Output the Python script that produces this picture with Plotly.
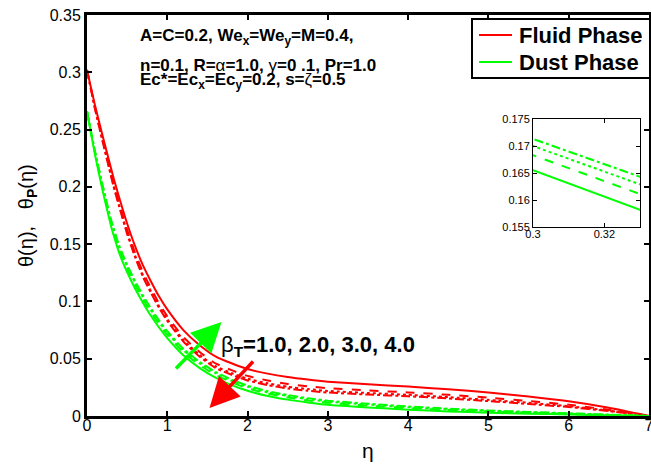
import plotly.graph_objects as go

# ---------------- data ----------------
eta = [0, 0.1, 0.2, 0.3, 0.33, 0.4, 0.5, 0.6, 0.7, 0.8, 0.9, 1.0, 1.2, 1.4, 1.6,
       1.8, 2.0, 2.25, 2.5, 2.75, 3.0, 3.5, 4.0, 4.5, 5.0, 5.5, 6.0, 6.5, 7.0]

# Fluid phase theta(eta) for beta_T = 1, 2, 3, 4
fluid_b1 = [0.302, 0.271, 0.243, 0.216, 0.208, 0.191, 0.168, 0.148, 0.131, 0.117, 0.104,
            0.093, 0.075, 0.062, 0.052, 0.046, 0.041, 0.037, 0.034, 0.0318, 0.0300,
            0.0277, 0.0257, 0.0233, 0.0205, 0.0170, 0.0128, 0.0072, 0.0]
fluid_b2 = [0.302, 0.2692, 0.2400, 0.2118, 0.2035, 0.1862, 0.1626, 0.1423, 0.1250, 0.1110,
            0.0980, 0.0870, 0.0690, 0.0560, 0.0460, 0.0400, 0.0350, 0.0310, 0.0280, 0.0259,
            0.0243, 0.0223, 0.0206, 0.0185, 0.0160, 0.0131, 0.0098, 0.0054, 0.0]
fluid_b3 = [0.302, 0.2684, 0.2387, 0.2100, 0.2016, 0.1842, 0.1604, 0.1399, 0.1225, 0.1085,
            0.0955, 0.0845, 0.0665, 0.0535, 0.0435, 0.0375, 0.0325, 0.0285, 0.0255, 0.0235,
            0.0219, 0.0201, 0.0185, 0.0165, 0.0141, 0.0115, 0.0086, 0.0047, 0.0]
fluid_b4 = [0.302, 0.2680, 0.2380, 0.2090, 0.2005, 0.1830, 0.1590, 0.1385, 0.1210, 0.1070,
            0.0940, 0.0830, 0.0650, 0.0520, 0.0420, 0.0360, 0.0310, 0.0270, 0.0240, 0.0220,
            0.0205, 0.0187, 0.0172, 0.0153, 0.0130, 0.0105, 0.0078, 0.0042, 0.0]

# Dust phase theta_P(eta) for beta_T = 1, 2, 3, 4
dust_b1 = [0.266, 0.228, 0.195, 0.1655, 0.1582, 0.1425, 0.1255, 0.1110, 0.0985, 0.0870,
           0.0770, 0.0680, 0.0530, 0.0420, 0.0335, 0.0270, 0.0220, 0.0175, 0.0143, 0.0118,
           0.0098, 0.0075, 0.0055, 0.0040, 0.0029, 0.0020, 0.0013, 0.0006, 0.0]
dust_b2 = [0.266, 0.2294, 0.1974, 0.1683, 0.1611, 0.1456, 0.1287, 0.1142, 0.1016, 0.0901,
           0.0800, 0.0709, 0.0557, 0.0446, 0.0359, 0.0293, 0.0242, 0.0195, 0.0162, 0.0136,
           0.0115, 0.0090, 0.0068, 0.0052, 0.0039, 0.0028, 0.0018, 0.0009, 0.0]
dust_b3 = [0.266, 0.2303, 0.1989, 0.1700, 0.1629, 0.1474, 0.1306, 0.1161, 0.1035, 0.0919,
           0.0818, 0.0726, 0.0574, 0.0462, 0.0374, 0.0307, 0.0255, 0.0207, 0.0174, 0.0147,
           0.0126, 0.0100, 0.0077, 0.0058, 0.0044, 0.0032, 0.0021, 0.0011, 0.0]
dust_b4 = [0.266, 0.2310, 0.2000, 0.1713, 0.1643, 0.1489, 0.1321, 0.1176, 0.1050, 0.0934,
           0.0832, 0.0740, 0.0587, 0.0474, 0.0386, 0.0318, 0.0265, 0.0217, 0.0183, 0.0156,
           0.0134, 0.0107, 0.0083, 0.0064, 0.0049, 0.0036, 0.0024, 0.0012, 0.0]

x_ticks = [0, 1, 2, 3, 4, 5, 6, 7]
y_ticks = [0, 0.05, 0.1, 0.15, 0.2, 0.25, 0.3, 0.35]
inset_x_ticks = [0.3, 0.32]
inset_y_ticks = [0.155, 0.16, 0.165, 0.17, 0.175]
legend_names = ["Fluid Phase", "Dust Phase"]

# ---------------- styling ----------------
RED = "#FF0000"
GREEN = "#00FF00"
FONT = "Liberation Sans"
dashes = ["solid", "dash", "dot", "dashdot"]
W, H = 651, 466
L, R, T, B = 87, 2, 15, 50
plot_w = W - L - R
plot_h = H - T - B


def px(x):
    return (x - L) / plot_w


def py(y):
    return (H - B - y) / plot_h


fig = go.Figure()

fluid = [fluid_b1, fluid_b2, fluid_b3, fluid_b4]
dust = [dust_b1, dust_b2, dust_b3, dust_b4]

for i, ys in enumerate(fluid):
    fig.add_trace(go.Scatter(
        x=eta, y=ys, mode="lines",
        line=dict(color=RED, width=2, dash=dashes[i], shape="spline", smoothing=0.6),
        showlegend=False))
for i, ys in enumerate(dust):
    fig.add_trace(go.Scatter(
        x=eta, y=ys, mode="lines",
        line=dict(color=GREEN, width=2, dash=dashes[i], shape="spline", smoothing=0.6),
        showlegend=False))

# inset (dust phase zoom)
for i, ys in enumerate(dust):
    fig.add_trace(go.Scatter(
        x=eta, y=ys, mode="lines", xaxis="x2", yaxis="y2",
        line=dict(color=GREEN, width=2, dash=dashes[i]),
        showlegend=False))

axis_common = dict(
    showline=True, linecolor="black", mirror="ticks", automargin=False,
    ticks="inside", tickcolor="black", showgrid=False, zeroline=False,
    ticklabeloverflow="allow",
)

fig.update_layout(
    width=W, height=H,
    margin=dict(l=L, r=R, t=T, b=B, autoexpand=False),
    paper_bgcolor="white", plot_bgcolor="white",
    font=dict(family=FONT, color="black"),
    xaxis=dict(range=[0, 7], tickvals=x_ticks, ticklen=5, tickwidth=1.5, linewidth=3,
               tickfont=dict(size=16), ticklabelstandoff=-7, **axis_common),
    yaxis=dict(range=[0, 0.35], tickvals=y_ticks, ticklen=5, tickwidth=1.5, linewidth=3,
               tickfont=dict(size=16), **axis_common),
    xaxis2=dict(domain=[px(533), px(640)], anchor="y2", range=[0.3, 0.33],
                tickvals=inset_x_ticks, ticklen=4, linewidth=1,
                tickfont=dict(size=11), ticklabelstandoff=-3, **axis_common),
    yaxis2=dict(domain=[py(227), py(119)], anchor="x2", range=[0.155, 0.175],
                tickvals=inset_y_ticks, ticklen=4, linewidth=1,
                tickfont=dict(size=11), **axis_common),
    showlegend=False,
)

# manual legend box (MATLAB style)
shapes = [
    dict(type="rect", xref="paper", yref="paper", x0=px(472), x1=px(650), y0=py(78), y1=py(19),
         line=dict(color="black", width=2), fillcolor="white", layer="above"),
    dict(type="line", xref="paper", yref="paper", x0=px(479), x1=px(512), y0=py(35), y1=py(35),
         line=dict(color=RED, width=2), layer="above"),
    dict(type="line", xref="paper", yref="paper", x0=px(479), x1=px(512), y0=py(62), y1=py(62),
         line=dict(color=GREEN, width=2), layer="above"),
]
fig.update_layout(shapes=shapes)

ann = []
ann.append(dict(xref="paper", yref="paper", x=px(517), y=py(35), xanchor="left", yanchor="middle",
                text="<b>" + legend_names[0] + "</b>", showarrow=False, font=dict(size=22)))
ann.append(dict(xref="paper", yref="paper", x=px(517), y=py(62), xanchor="left", yanchor="middle",
                text="<b>" + legend_names[1] + "</b>", showarrow=False, font=dict(size=22)))
# parameter text
ann.append(dict(xref="paper", yref="paper", x=px(138), y=py(37), xanchor="left", yanchor="middle",
                text="<b>A=C=0.2, We<sub>x</sub>=We<sub>y</sub>=M=0.4,</b>",
                showarrow=False, font=dict(size=17)))
ann.append(dict(xref="paper", yref="paper", x=px(138), y=py(65), xanchor="left", yanchor="middle",
                text="<b>n=0.1, R=</b>α<b>=1.0, </b>γ<b>=0 .1, Pr=1.0</b>",
                showarrow=False, font=dict(size=17)))
ann.append(dict(xref="paper", yref="paper", x=px(138), y=py(81), xanchor="left", yanchor="middle",
                text="<b>Ec*=Ec<sub>x</sub>=Ec<sub>y</sub>=0.2, s=</b>ζ<b>=0.5</b>",
                showarrow=False, font=dict(size=17)))
# beta_T label
ann.append(dict(xref="paper", yref="paper", x=px(219), y=py(346), xanchor="left", yanchor="middle",
                text="β<sub><b>T</b></sub><b>=1.0, 2.0, 3.0, 4.0</b>",
                showarrow=False, font=dict(size=22)))
# arrows (data coordinates)
ann.append(dict(xref="x", yref="y", axref="x", ayref="y",
                x=1.675, y=0.0821, ax=1.09, ay=0.0402, text="",
                showarrow=True, arrowhead=2, arrowsize=1.7, arrowwidth=3.5, arrowcolor=GREEN))
ann.append(dict(xref="x", yref="y", axref="x", ayref="y",
                x=1.526, y=0.0070, ax=2.086, ay=0.0489, text="",
                showarrow=True, arrowhead=2, arrowsize=1.7, arrowwidth=3.5, arrowcolor=RED))
# axis titles
ann.append(dict(xref="paper", yref="paper", x=px(368), y=py(450), xanchor="center", yanchor="middle",
                text="η", showarrow=False, font=dict(size=21)))
ann.append(dict(xref="paper", yref="paper", x=px(27), y=py(216), xanchor="center", yanchor="middle",
                text="θ(η),   θ<sub><b>P</b></sub>(η)", textangle=-90,
                showarrow=False, font=dict(size=20)))
fig.update_layout(annotations=ann)

fig.write_html("out.html", config={"displayModeBar": False},
               post_script="document.body.style.margin='0px';document.body.style.overflow='hidden';")
